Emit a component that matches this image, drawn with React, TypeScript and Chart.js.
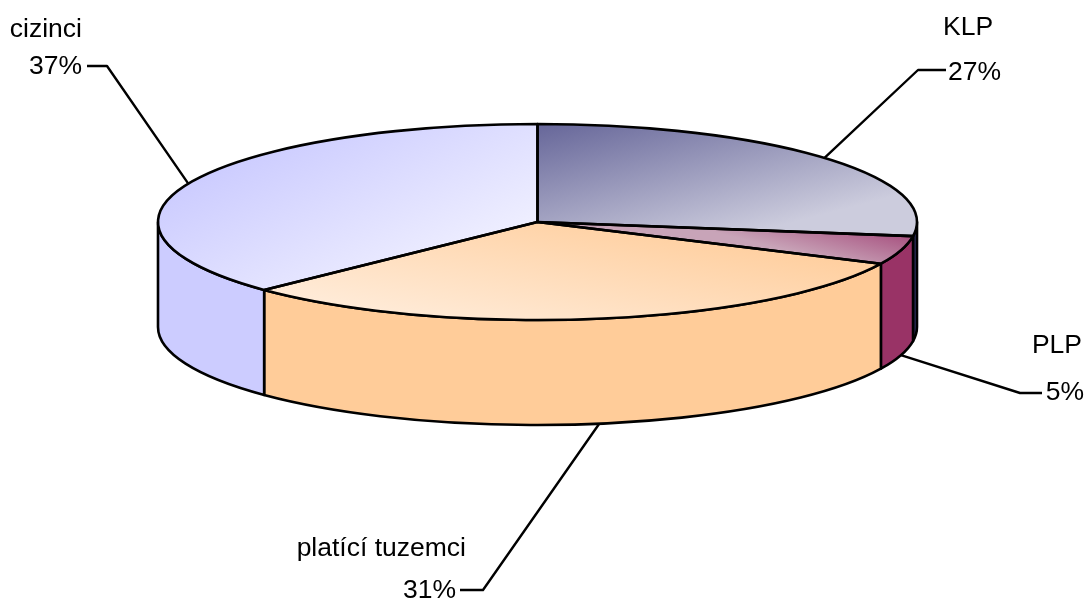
import React, { useEffect, useRef } from "react";
import { Chart, registerables } from "chart.js";

Chart.register(...registerables);

const categories = ["KLP", "PLP", "platící tuzemci", "cizinci"];
const shares = [27.3, 4.7, 30.8, 37.2];
const sideColors = ["#333366", "#993366", "#FFCC99", "#CCCCFF"];
const topGradients = [
  { from: [537, 124], dir: [0.249, 0.968], len: 159, stops: ["#666699", "#CCCCDD"] },
  { from: [915, 232], dir: [-0.25, 0.97], len: 50, stops: ["#A4497A", "#C8A4B8"] },
  { from: [880, 250], dir: [-0.2, 0.98], len: 190, stops: ["#FFCC99", "#FFF0E2"] },
  { from: [170, 190], dir: [0.45, 0.89], len: 190, stops: ["#CCCCFF", "#EEEEFF"] },
];

const VIEW = { cx: 537.5, cy: 222, rx: 379.5, ry: 98, depth: 105 };
const FONT = '26.5px "Liberation Sans", Arial, sans-serif';
const labelLayout = [
  { knee: [918, 70], end: [946, 70], align: "left", name: [943, 35], value: [948, 80] },
  { knee: [1020, 393], end: [1042, 393], align: "right", name: [1082, 353], value: [1084, 400] },
  { knee: [483, 590], end: [460, 590], align: "right", name: [466, 556], value: [456, 598] },
  { knee: [107, 66], end: [87, 66], align: "right", name: [82, 37], value: [82, 74] },
];

function arcs(chart: any) {
  return chart.getDatasetMeta(0).data as any[];
}

function pieToScreen(el: any) {
  const sx = VIEW.rx / el.outerRadius;
  const sy = VIEW.ry / el.outerRadius;
  return { sx, sy, ox: el.x, oy: el.y };
}

const pie3d = {
  id: "pie3d",
  beforeDatasetsDraw(chart: any) {
    const ctx = chart.ctx as CanvasRenderingContext2D;
    const { cx, cy, rx, ry, depth } = VIEW;
    ctx.save();
    ctx.lineWidth = 2.6;
    ctx.strokeStyle = "#000";
    ctx.lineJoin = "round";
    arcs(chart).forEach((el, i) => {
      const a0 = Math.max(el.startAngle, 0);
      const a1 = Math.min(el.endAngle, Math.PI);
      if (a1 <= a0) return;
      ctx.beginPath();
      ctx.ellipse(cx, cy, rx, ry, 0, a0, a1);
      ctx.lineTo(cx + rx * Math.cos(a1), cy + depth + ry * Math.sin(a1));
      ctx.ellipse(cx, cy + depth, rx, ry, 0, a1, a0, true);
      ctx.closePath();
      ctx.fillStyle = sideColors[i];
      ctx.fill();
      ctx.stroke();
    });
    ctx.restore();

    const first = arcs(chart)[0];
    const t = pieToScreen(first);
    ctx.save();
    ctx.translate(cx, cy);
    ctx.scale(t.sx, t.sy);
    ctx.translate(-t.ox, -t.oy);
  },
  afterDatasetsDraw(chart: any) {
    const ctx = chart.ctx as CanvasRenderingContext2D;
    ctx.restore();
    const { cx, cy, rx, ry, depth } = VIEW;
    ctx.save();
    ctx.lineWidth = 2.6;
    ctx.strokeStyle = "#000";
    ctx.lineJoin = "round";
    arcs(chart).forEach((el) => {
      ctx.beginPath();
      ctx.moveTo(cx, cy);
      ctx.ellipse(cx, cy, rx, ry, 0, el.startAngle, el.endAngle);
      ctx.closePath();
      ctx.stroke();
    });
    ctx.lineWidth = 2.4;
    ctx.font = FONT;
    ctx.fillStyle = "#000";
    ctx.textBaseline = "alphabetic";
    arcs(chart).forEach((el, i) => {
      const mid = (el.startAngle + el.endAngle) / 2;
      const s = Math.sin(mid);
      const ax = cx + rx * Math.cos(mid);
      const ay = cy + ry * s + (s > 0 ? depth : 0);
      const l = labelLayout[i];
      ctx.beginPath();
      ctx.moveTo(ax, ay);
      ctx.lineTo(l.knee[0], l.knee[1]);
      ctx.lineTo(l.end[0], l.end[1]);
      ctx.stroke();
      ctx.textAlign = l.align as CanvasTextAlign;
      ctx.fillText(categories[i], l.name[0], l.name[1]);
      ctx.fillText(`${Math.round(shares[i])}%`, l.value[0], l.value[1]);
    });
    ctx.restore();
  },
};

function topFill(context: any) {
  const chart = context.chart;
  const el = arcs(chart)[context.dataIndex];
  const g = topGradients[context.dataIndex];
  if (!el || !el.outerRadius) return g.stops[0];
  const { sx, sy, ox, oy } = pieToScreen(el);
  // Gradient given on screen, mapped back into the pie's own (unsquashed) space.
  const dx = g.dir[0] * g.len;
  const dy = g.dir[1] * g.len;
  const d2 = dx * dx + dy * dy;
  const wx = (sx * dx) / d2;
  const wy = (sy * dy) / d2;
  const w2 = wx * wx + wy * wy;
  const q0x = ox + (g.from[0] - VIEW.cx) / sx;
  const q0y = oy + (g.from[1] - VIEW.cy) / sy;
  const grad = chart.ctx.createLinearGradient(q0x, q0y, q0x + wx / w2, q0y + wy / w2);
  grad.addColorStop(0, g.stops[0]);
  grad.addColorStop(1, g.stops[1]);
  return grad;
}

export default function App() {
  const ref = useRef<HTMLCanvasElement>(null);
  useEffect(() => {
    document.body.style.margin = "0";
    const chart = new Chart(ref.current!, {
      type: "pie",
      data: {
        labels: categories,
        datasets: [{ data: shares, backgroundColor: topFill as any, borderWidth: 0, clip: false as any }],
      },
      options: {
        responsive: false,
        animation: false,
        events: [],
        layout: { padding: 20 },
        plugins: { legend: { display: false }, tooltip: { enabled: false } },
      },
      plugins: [pie3d as any],
    });
    chart.update();
    return () => chart.destroy();
  }, []);
  return <canvas ref={ref} width={1088} height={600} style={{ display: "block" }} />;
}
